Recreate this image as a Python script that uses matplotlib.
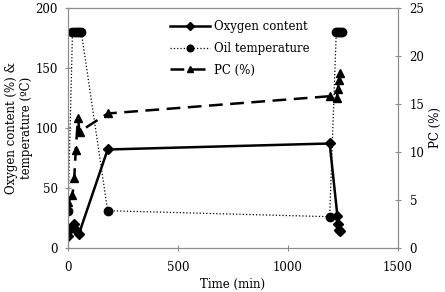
import matplotlib
matplotlib.use('Agg')
from matplotlib import pyplot

# Oxygen content (%) - left axis
oxygen_time = [0, 15, 25, 35, 50, 180, 1190, 1225, 1228, 1232, 1236]
oxygen = [10, 17, 20, 15, 12, 82, 87, 27, 20, 15, 14]

# Oil temperature (C) - left axis
temp_time = [0, 20, 30, 40, 50, 60, 180, 1190, 1220, 1228, 1236, 1244]
temp = [31, 180, 180, 180, 180, 180, 31, 26, 180, 180, 180, 180]

# PC (%) - right axis
pc_time = [0, 20, 28, 35, 45, 52, 180, 1190, 1222, 1228, 1232, 1236]
pc = [4.8, 5.5, 7.3, 10.2, 13.5, 12.1, 14.0, 15.8, 15.6, 16.6, 17.5, 18.2]

pyplot.rcParams['font.family'] = 'DejaVu Serif'
pyplot.rcParams['font.size'] = 8.5

GRAY = '#8c8c8c'

fig = pyplot.figure(figsize=(4.45, 2.92), dpi=100)
ax1 = fig.add_axes([0.153, 0.151, 0.741, 0.822])
ax2 = ax1.twinx()

l1, = ax1.plot(oxygen_time, oxygen, color='black', linewidth=1.8, marker='D', markersize=5, label='Oxygen content')
l2, = ax1.plot(temp_time, temp, color='black', linewidth=0.9, linestyle=':', marker='o', markersize=6, label='Oil temperature')
l3, = ax2.plot(pc_time, pc, color='black', linewidth=1.8, linestyle=(0, (5.5, 3)), marker='^', markersize=6, label='PC (%)')

ax1.set_xlim(0, 1500)
ax1.set_ylim(0, 200)
ax2.set_ylim(0, 25)
ax1.set_xticks([0, 500, 1000, 1500])
ax1.set_yticks([0, 50, 100, 150, 200])
ax2.set_yticks([0, 5, 10, 15, 20, 25])

ax1.set_xlabel('Time (min)', labelpad=3)
ax1.set_ylabel('Oxygen content (%) &\ntemperature (ºC)', labelpad=2)
ax2.set_ylabel('PC (%)', labelpad=3)

for ax in (ax1, ax2):
    for spine in ax.spines.values():
        spine.set_color(GRAY)
    ax.tick_params(direction='inout', length=5, color=GRAY, labelsize=8.5)
ax1.tick_params(axis='x', pad=7)
ax1.tick_params(axis='y', pad=5)
ax2.tick_params(axis='y', pad=6)

ax1.legend(handles=[l1, l2, l3], loc='upper left', bbox_to_anchor=(0.31, 0.95), frameon=False,
           borderpad=0, borderaxespad=0, handlelength=3.4, handletextpad=0.3,
           labelspacing=0.75, markerscale=0.8, fontsize=8.5)

pyplot.savefig('out.png', dpi=100)
